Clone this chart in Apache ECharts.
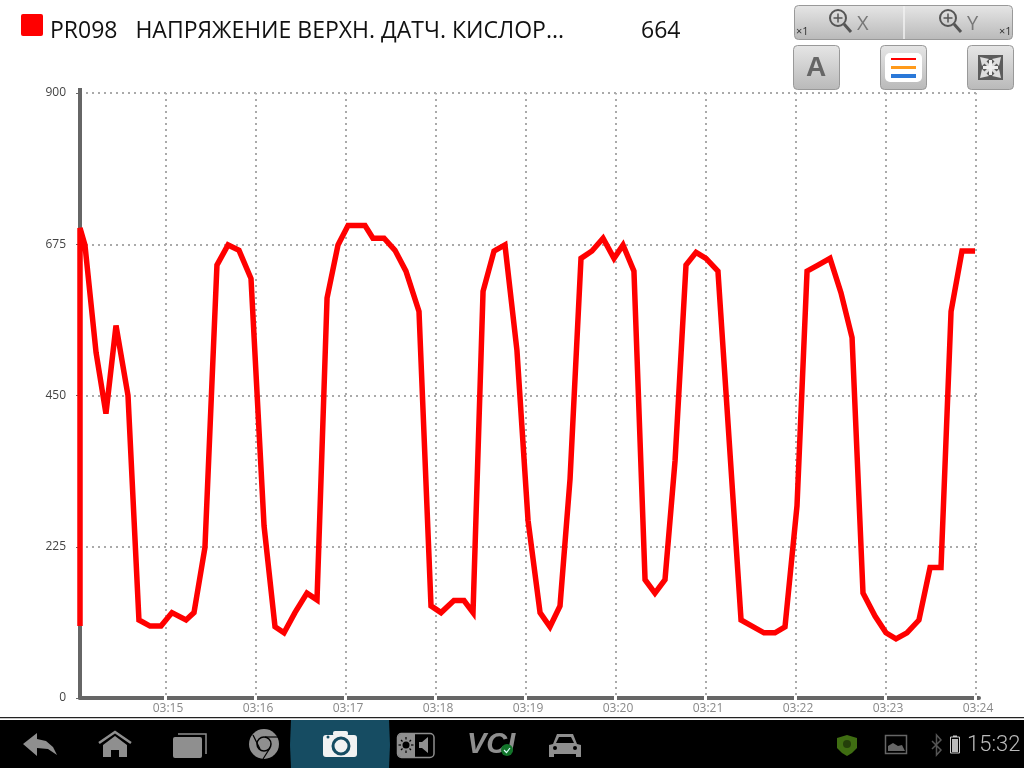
<!DOCTYPE html>
<html><head><meta charset="utf-8">
<style>html,body{margin:0;padding:0;background:#fff}#c{width:1024px;height:768px}</style>
<script src="https://cdn.jsdelivr.net/npm/echarts@6/dist/echarts.min.js"></script>
</head><body><div id="c"></div>
<script>
// seconds after 03:14:00
const seconds=[3,3,6.3,13.7,20.3,27,35,42.3,49.7,57,64.3,73.7,79,86.3,94.3,101.7,109,117,125.7,133,139,146.3,154.3,161,167.7,175,181.7,193,198.3,205.7,213,220.3,229,237,243.7,252.3,259,265,271.7,279,286.3,294.3,301.7,309.7,316.3,323,329.7,337,344.3,351.7,359,365,372.3,379.7,386.3,393,399.7,407,413.7,420.3,428.3,443.7,451,459,466.3,473,481,487.7,495,503,510.3,517.7,525,533,540.3,547,554.3,562.3,569.7,577,583.7,591,599.7];
const values=[107,699,674,514,423,554,450,116,107,107,127,116,127,224,644,674,666,624,256,106,97,127,156,146,595,674,703,703,684,684,666,635,575,137,127,145,145,127,605,665,674,517,264,127,106,137,326,654,665,684,654,674,635,176,156,176,353,644,663,654,635,116,107,97,97,106,286,635,644,654,603,536,156,122,97,88,97,116,194,194,575,665,665];
const tickSeconds=[60,120,180,240,300,360,420,480,540,600];
const tickLabels=['03:15','03:16','03:17','03:18','03:19','03:20','03:21','03:22','03:23','03:24'];
const yTicks=[0,225,450,675,900];
const titleText='PR098   НАПРЯЖЕНИЕ ВЕРХН. ДАТЧ. КИСЛОР...';
const currentValue='664';

const FONT='"Open Sans"';
const G='#8f8f8f';
const btnFill={type:'linear',x:0,y:0,x2:0,y2:1,colorStops:[{offset:0,color:'#e6e6e6'},{offset:1,color:'#b9b9b9'}]};
const rect=(x,y,w,h,fill,r,stroke,lw)=>({type:'rect',shape:{x,y,width:w,height:h,r:r||0},style:{fill:fill,stroke:stroke||null,lineWidth:lw||0},silent:true});
const circle=(cx,cy,r,fill,stroke,lw)=>({type:'circle',shape:{cx,cy,r},style:{fill:fill||null,stroke:stroke||null,lineWidth:lw||0},silent:true});
const poly=(pts,fill)=>({type:'polygon',shape:{points:pts},style:{fill},silent:true});
const pl=(pts,stroke,lw)=>({type:'polyline',shape:{points:pts},style:{stroke,lineWidth:lw,fill:null},silent:true});
const txt=(x,y,t,size,fill,o)=>({type:'text',x,y,style:Object.assign({text:t,fontSize:size,fill,fontFamily:FONT,verticalAlign:'middle',align:'left'},o||{}),silent:true});
const magnifier=(cx,cy)=>[circle(cx,cy,8,null,'#555',2),pl([[cx+6,cy+6],[cx+13,cy+14]],'#555',3),pl([[cx-4.5,cy],[cx+4.5,cy]],'#555',1.5),pl([[cx,cy-4.5],[cx,cy+4.5]],'#555',1.5)];

const chrome=[
 // top bar
 rect(21,14,22,22,'#ff0000',2),
 txt(50,31,titleText,23,'#111'),
 txt(641,31,currentValue,23,'#111'),
 rect(794.5,5.5,218,34,btnFill,4,'#999',1),
 pl([[904,6],[904,39]],'#f2f2f2',1.5),
 ...magnifier(838,18),
 txt(857,24,'X',20,'#777'),
 ...magnifier(948,18),
 txt(967,24,'Y',20,'#777'),
 txt(796,32,'×1',11,'#333'),
 txt(999,32,'×1',11,'#333'),
 rect(793.5,45.5,46,44,btnFill,4,'#999',1),
 txt(816,68,'A',28,'#666',{align:'center',fontWeight:'bold',fontFamily:'"Liberation Sans"'}),
 rect(880.5,45.5,46,44,btnFill,4,'#999',1),
 rect(885,53,37,29,'#fff',5),
 rect(891,58,25,2,'#ff0000'),
 rect(891,66,25,3,'#ff9a1a'),
 rect(891,74,25,4,'#2a78d8'),
 rect(967.5,45.5,46,44,btnFill,4,'#999',1),
 rect(978,55,25,25,'#5c5c5c'),
 poly([[980,57],[989,59],[982,66]],'#ddd'),
 poly([[1001,57],[992,59],[999,66]],'#ddd'),
 poly([[980,78],[989,76],[982,69]],'#ddd'),
 poly([[1001,78],[992,76],[999,69]],'#ddd'),
 pl([[982,59],[999,76]],'#ddd',3),
 pl([[999,59],[982,76]],'#ddd',3),
 pl([[990.5,60],[990.5,75]],'#eee',3),
 pl([[983,67.5],[998,67.5]],'#eee',3),
 // hide top of vertical grid lines, and stretch the y axis above 900
 rect(84,94.5,896,3,'#fff'),
 rect(78,88,4,6,'#666'),
 // bottom bar
 rect(0,717,1024,1.5,'#222'),
 rect(0,718.5,1024,1.5,'#fff'),
 rect(0,720,1024,48,'#000'),
 poly([[23,744],[37,733],[37,739],[46,741],[53,747],[57,755],[48,749],[37,748],[37,756]],G),
 pl([[99,743],[115,732],[131,743]],G,2.5),
 poly([[103,745],[115,736],[127,745],[127,757],[119,757],[119,750],[111,750],[111,757],[103,757]],G),
 pl([[178,734],[206,734],[206,754]],G,1.5),
 rect(173,737,29,21,G,2),
 circle(264,744,15,G),
 circle(264,744,7,G,'#000',1.5),
 pl([[253,735],[260,749]],'#000',1.2),pl([[265,737],[278,737]],'#000',1.2),pl([[270,748],[263,759]],'#000',1.2),
 poly([[291,720],[389,720],[390,745],[389,768],[291,768],[290,745]],'#164c62'),
 rect(323,735,34,22,'#f2f2f2',3),
 rect(333,731,15,5,'#f2f2f2',2),
 circle(341,746,8,'#f2f2f2','#164c62',3),
 circle(328,737,1.5,'#164c62'),
 rect(397.5,733.5,36.5,24,'#000',4,G,1.5),
 rect(398,734,17,23,G,3),
 rect(412,734,3,23,G),
 circle(406,745,3.5,'#000'),
 pl([[406,737],[406,739.5]],'#000',1.2),pl([[406,750.5],[406,753]],'#000',1.2),pl([[398.5,745],[401,745]],'#000',1.2),pl([[411,745],[413.5,745]],'#000',1.2),
 pl([[401,740],[402.5,741.5]],'#000',1.2),pl([[411,740],[409.5,741.5]],'#000',1.2),pl([[401,750],[402.5,748.5]],'#000',1.2),pl([[411,750],[409.5,748.5]],'#000',1.2),
 poly([[419,742],[422,742],[428,737],[428,753],[422,748],[419,748]],G),
 txt(467,745,'VCI',29,G,{fontStyle:'italic',fontWeight:'bold',fontFamily:'"Liberation Sans"'}),
 circle(507,750,6,'#12752a'),
 pl([[504,750],[506.5,752.5],[510,748]],'#dff',1.2),
 poly([[553,744],[557,734],[573,734],[577,744],[581,745],[581,757],[576,757],[576,754],[554,754],[554,757],[549,757],[549,745]],G),
 poly([[556,743],[559,737],[571,737],[574,743]],'#000'),
 circle(555,748,2,'#000'),circle(575,748,2,'#000'),
 poly([[837,738],[847,735],[857,738],[857,748],[852,753],[847,756],[842,753],[837,748]],'#3f6d12'),
 circle(847,744,4,'#243f0a'),
 rect(885.5,735.5,21,18,'#000',0,'#666',1.5),
 poly([[888,751],[888,746],[893,743],[898,746],[902,745],[905,751]],'#666'),
 pl([[932,741],[941,750],[936.5,755],[936.5,735],[941,740],[932,749]],'#555',1.5),
 rect(950.5,737,9,16,'#000',0,'#ccc',1),
 rect(952,739,6,13,'#bbb'),
 rect(953,735.5,4,1.5,'#ccc'),
 txt(967,745,'15:32',22,'#bbb',{fontFamily:'Roboto',fontWeight:300})
];

const xBase={type:'value',min:3,max:602.33,position:'bottom'};
const chart=echarts.init(document.getElementById('c'),null,{renderer:'canvas'});
chart.setOption({
 animation:false,
 backgroundColor:'#fff',
 grid:{left:80,right:45,top:93,bottom:70,containLabel:false},
 xAxis:[
  Object.assign({},xBase,{
   axisLine:{onZero:false,lineStyle:{color:'#666',width:4}},
   axisTick:{show:true,inside:true,length:2,customValues:tickSeconds,lineStyle:{color:'#fff',width:3}},
   axisLabel:{show:true,customValues:tickSeconds,color:'#888',fontSize:12,fontFamily:FONT,margin:5,padding:[0,0,0,5],
     formatter:v=>tickLabels[tickSeconds.indexOf(v)]||''},
   splitLine:{show:true,lineStyle:{color:'#aaa',width:2,type:[2,4]}}
  }),
  Object.assign({},xBase,{
   axisLine:{show:false,onZero:false},
   axisTick:{show:true,length:2,customValues:tickSeconds,lineStyle:{color:'#fff',width:3}},
   axisLabel:{show:false},splitLine:{show:false}
  })
 ],
 yAxis:{type:'value',min:0,max:900,interval:225,
   axisLine:{show:true,lineStyle:{color:'#666',width:4}},
   axisTick:{show:true,length:4,lineStyle:{color:'#666',width:1}},
   axisLabel:{color:'#444',fontSize:12,fontFamily:FONT,margin:14,padding:[6,0,0,0],formatter:v=>yTicks.includes(v)?String(v):''},
   splitLine:{show:true,lineStyle:{color:'#aaa',width:2,type:[2,4]}}},
 series:[{type:'line',xAxisIndex:0,yAxisIndex:0,data:seconds.map((s,i)=>[s,values[i]]),
   showSymbol:false,symbol:'none',clip:false,z:5,
   lineStyle:{color:'#ff0000',width:5.5,join:'miter',cap:'butt',miterLimit:4}}],
 graphic:chrome.map(e=>Object.assign(e,{z:100}))
});
</script></body></html>
